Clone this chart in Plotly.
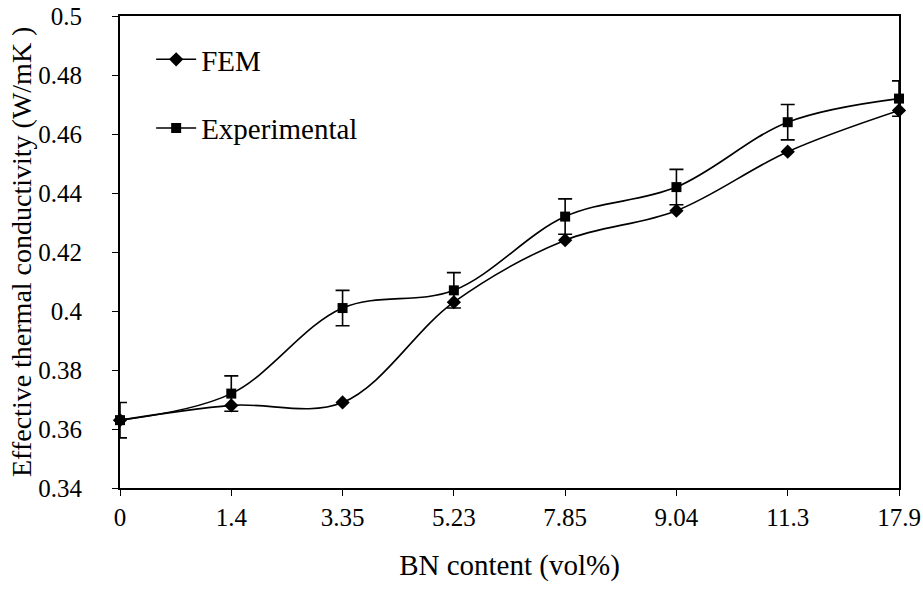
import plotly.graph_objects as go

# BN filler content (vol%) used as evenly spaced categories
bn_content = ["0", "1.4", "3.35", "5.23", "7.85", "9.04", "11.3", "17.9"]

# Effective thermal conductivity (W/mK)
fem_values = [0.363, 0.368, 0.369, 0.403, 0.424, 0.434, 0.454, 0.468]
exp_values = [0.363, 0.372, 0.401, 0.407, 0.432, 0.442, 0.464, 0.472]
exp_error = [0.006, 0.006, 0.006, 0.006, 0.006, 0.006, 0.006, 0.006]

# y axis: 0.34 .. 0.5 in steps of 0.02
y_min, y_max, y_step = 0.34, 0.5, 0.02

FONT = "Liberation Serif, Times New Roman, serif"
W, H = 923, 590
M_L, M_R, M_T, M_B = 120, 24, 16, 102

fig = go.Figure()

fig.add_trace(go.Scatter(
    x=bn_content, y=fem_values, name="FEM",
    mode="lines+markers",
    line=dict(color="black", width=1.6, shape="spline", smoothing=1.0),
    marker=dict(symbol="diamond", size=11, color="black"),
    legendgroup="fem", cliponaxis=False,
))

fig.add_trace(go.Scatter(
    x=bn_content, y=exp_values, name="Experimental",
    mode="lines+markers",
    line=dict(color="black", width=1.6, shape="spline", smoothing=1.0),
    marker=dict(symbol="square", size=10, color="black"),
    error_y=dict(type="data", array=exp_error, visible=True,
                 color="black", thickness=1.6, width=7),
    legendgroup="exp", cliponaxis=False,
))

# vertical y-axis title, placed in the left margin
plot_w = W - M_L - M_R
fig.add_annotation(
    text="Effective thermal conductivity (W/mK )",
    xref="paper", yref="paper",
    x=(21 - M_L) / plot_w, y=0.5,
    xanchor="center", yanchor="middle",
    textangle=-90, showarrow=False,
    font=dict(family=FONT, size=28, color="black"),
)

fig.update_layout(
    width=W, height=H,
    margin=dict(l=M_L, r=M_R, t=M_T, b=M_B),
    paper_bgcolor="white", plot_bgcolor="white",
    font=dict(family=FONT, size=25, color="black"),
    showlegend=True,
    legend=dict(
        x=0.04, y=0.962, xanchor="left", yanchor="top",
        bgcolor="rgba(0,0,0,0)", borderwidth=0,
        traceorder="grouped", tracegroupgap=28,
        font=dict(family=FONT, size=29, color="black"),
        itemwidth=40,
    ),
    xaxis=dict(
        type="category", range=[0, len(bn_content) - 1],
        automargin=False,
        showline=True, linecolor="black", linewidth=1.8, mirror=True,
        ticks="outside", ticklen=6, tickwidth=1.4, tickcolor="black",
        showgrid=False, zeroline=False,
        ticklabelstandoff=0,
        tickfont=dict(family=FONT, size=25),
        title=dict(text="BN content (vol%)", standoff=25,
                   font=dict(family=FONT, size=29)),
    ),
    yaxis=dict(
        range=[y_min, y_max], automargin=False,
        tick0=y_min, dtick=y_step,
        ticklabelposition="outside", ticklabelstandoff=25,
        showline=True, linecolor="black", linewidth=1.8, mirror=True,
        ticks="outside", ticklen=6, tickwidth=1.4, tickcolor="black",
        showgrid=False, zeroline=False,
        tickfont=dict(family=FONT, size=25),
    ),
)

fig.write_html("out.html")
